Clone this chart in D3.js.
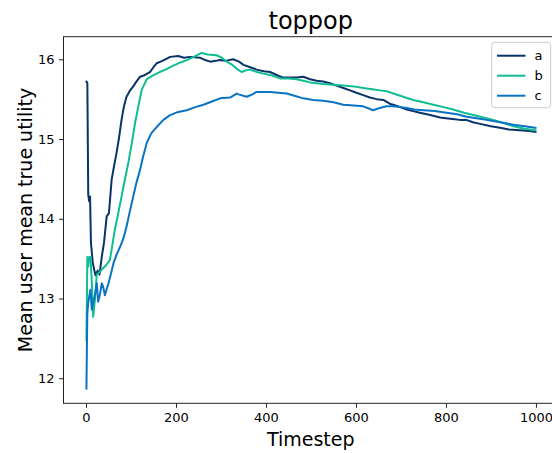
<!DOCTYPE html>
<html><head><meta charset="utf-8">
<script src="https://cdn.jsdelivr.net/npm/d3@7"></script>
<style>body{margin:0;background:#fff}svg{display:block;font-family:"DejaVu Sans",sans-serif}</style>
</head><body><svg id="chart" width="552" height="453"></svg>
<script>
const title = "toppop";
const xLabel = "Timestep";
const yLabel = "Mean user mean true utility";
const seriesNames = ["a", "b", "c"];
const xTicks = [0, 200, 400, 600, 800, 1000];
const yTicks = [12, 13, 14, 15, 16];

const seriesA = [[1,15.72],[3,15.70],[5,14.30],[7,14.22],[9,14.28],[11,13.70],[15,13.45],[21,13.29],[26,13.35],[30,13.30],[35,13.52],[40,13.70],[46,14.03],[51,14.07],[57,14.49],[62,14.65],[68,14.83],[73,15.0],[79,15.24],[84,15.40],[90,15.53],[97,15.60],[105,15.66],[112,15.72],[120,15.78],[130,15.80],[142,15.84],[150,15.90],[157,15.95],[170,15.98],[187,16.03],[205,16.04],[218,16.02],[231,16.03],[253,16.02],[265,15.99],[276,15.97],[288,15.98],[298,15.99],[310,15.98],[327,16.0],[340,15.97],[350,15.93],[365,15.90],[379,15.87],[395,15.85],[409,15.84],[425,15.80],[438,15.77],[455,15.77],[468,15.77],[483,15.78],[498,15.75],[513,15.73],[527,15.72],[542,15.70],[557,15.67],[572,15.64],[587,15.61],[601,15.58],[616,15.55],[631,15.52],[646,15.50],[661,15.49],[676,15.44],[683,15.43],[698,15.40],[713,15.37],[727,15.35],[742,15.33],[765,15.30],[787,15.27],[800,15.26],[815,15.25],[831,15.24],[845,15.24],[860,15.21],[876,15.19],[900,15.16],[920,15.14],[940,15.12],[964,15.11],[985,15.10],[999,15.09]];

const seriesB = [[1,12.48],[2,13.0],[3,13.52],[5,13.40],[7,13.52],[10,13.52],[13,13.2],[16,12.77],[20,13.0],[24,13.30],[30,13.33],[38,13.38],[45,13.42],[53,13.48],[58,13.65],[64,13.86],[71,14.05],[79,14.28],[86,14.48],[94,14.70],[101,14.92],[109,15.20],[116,15.40],[124,15.62],[135,15.75],[150,15.80],[164,15.84],[180,15.88],[194,15.92],[210,15.96],[224,15.99],[236,16.02],[246,16.05],[257,16.08],[270,16.06],[290,16.05],[302,16.02],[313,15.97],[325,15.93],[335,15.88],[346,15.84],[355,15.86],[364,15.87],[380,15.84],[394,15.82],[412,15.80],[431,15.76],[450,15.76],[468,15.75],[483,15.73],[498,15.71],[513,15.70],[527,15.69],[550,15.68],[572,15.67],[595,15.66],[616,15.64],[640,15.62],[653,15.61],[668,15.60],[683,15.57],[705,15.53],[727,15.49],[750,15.46],[772,15.43],[795,15.40],[816,15.37],[840,15.33],[861,15.30],[883,15.27],[905,15.24],[928,15.20],[950,15.16],[975,15.13],[999,15.11]];

const seriesC = [[1,11.87],[2,12.4],[3,12.82],[5,12.95],[8,13.05],[10,13.11],[13,12.86],[16,12.95],[20,13.05],[24,13.19],[27,12.96],[31,13.05],[35,13.19],[38,13.15],[42,13.04],[46,13.12],[50,13.19],[55,13.30],[61,13.44],[68,13.55],[76,13.65],[83,13.75],[90,13.90],[97,14.08],[105,14.28],[112,14.45],[120,14.61],[127,14.78],[135,14.95],[145,15.07],[157,15.15],[172,15.24],[187,15.30],[205,15.34],[224,15.36],[243,15.40],[261,15.43],[280,15.47],[298,15.51],[320,15.52],[335,15.57],[339,15.56],[357,15.53],[370,15.56],[379,15.59],[395,15.59],[409,15.59],[428,15.58],[446,15.57],[465,15.54],[483,15.51],[505,15.49],[527,15.48],[550,15.46],[572,15.43],[595,15.42],[616,15.41],[630,15.38],[638,15.36],[653,15.39],[668,15.41],[683,15.41],[698,15.40],[713,15.39],[730,15.37],[750,15.36],[775,15.35],[801,15.33],[825,15.31],[846,15.28],[868,15.26],[890,15.24],[920,15.21],[950,15.18],[975,15.16],[999,15.14]];

const colors = ["#08336b", "#0fbd92", "#0a74c4"];
const allSeries = [seriesA, seriesB, seriesC];

const svg = d3.select("#chart");
const L = 63.5, R = 558, T = 36.7, B = 403.3;
const x = d3.scaleLinear().domain([-50, 1049]).range([L, R]);
const y = d3.scaleLinear().domain([11.686, 16.283]).range([B, T]);

// spines
const sp = svg.append("g").attr("stroke", "#222").attr("stroke-width", 1).attr("fill", "none");
sp.append("rect").attr("x", L).attr("y", T).attr("width", R - L).attr("height", B - T);

// x axis
const xAxis = d3.axisBottom(x).tickValues(xTicks).tickSize(4.5).tickPadding(4.5).tickFormat(d3.format("d"));
const gx = svg.append("g").attr("transform", `translate(0,${B})`).call(xAxis);
gx.select(".domain").remove();
gx.selectAll("text").attr("font-size", 13).attr("font-family", "DejaVu Sans").attr("fill", "#000");
gx.selectAll("line").attr("stroke", "#222");

const yAxis = d3.axisLeft(y).tickValues(yTicks).tickSize(4.5).tickPadding(4.5).tickFormat(d3.format("d"));
const gy = svg.append("g").attr("transform", `translate(${L},0)`).call(yAxis);
gy.select(".domain").remove();
gy.selectAll("text").attr("font-size", 13).attr("font-family", "DejaVu Sans").attr("fill", "#000");
gy.selectAll("line").attr("stroke", "#222");

// lines
const line = d3.line().x(d => x(d[0])).y(d => y(d[1]));
allSeries.forEach((s, i) => {
  svg.append("path").datum(s).attr("d", line).attr("fill", "none")
    .attr("stroke", colors[i]).attr("stroke-width", 2).attr("stroke-linejoin", "round").attr("stroke-linecap", "square");
});

// title & labels
svg.append("text").attr("x", (L + R) / 2).attr("y", 29).attr("text-anchor", "middle")
  .attr("font-size", 24).attr("fill", "#000").text(title);
svg.append("text").attr("x", (L + R) / 2).attr("y", 446).attr("text-anchor", "middle")
  .attr("font-size", 19).attr("fill", "#000").text(xLabel);
svg.append("text").attr("transform", `translate(32,${(T + B) / 2}) rotate(-90)`).attr("text-anchor", "middle")
  .attr("font-size", 19).attr("fill", "#000").text(yLabel);

// legend
const lg = svg.append("g");
lg.append("rect").attr("x", 491.7).attr("y", 42.3).attr("width", 59).attr("height", 65.4)
  .attr("rx", 3).attr("fill", "#fff").attr("fill-opacity", 0.8).attr("stroke", "#cccccc").attr("stroke-width", 1);
seriesNames.forEach((n, i) => {
  const yy = 55.7 + i * 20;
  lg.append("line").attr("x1", 497).attr("x2", 525.5).attr("y1", yy).attr("y2", yy)
    .attr("stroke", colors[i]).attr("stroke-width", 2);
  lg.append("text").attr("x", 534.5).attr("y", yy + 4.6).attr("font-size", 13).attr("fill", "#000").text(n);
});
</script></body></html>
